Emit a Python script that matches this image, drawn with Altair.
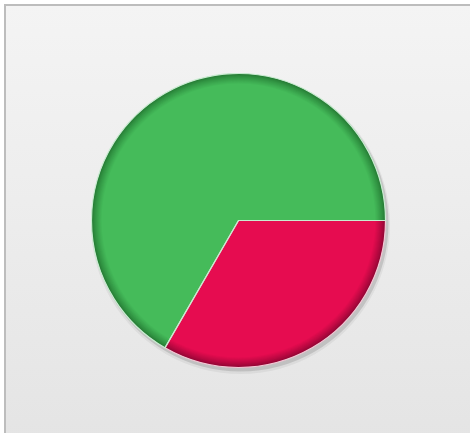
import altair as alt
import pandas as pd
import math

categories = ["Red", "Green"]
values = [1, 2]
base_colors = ["#e60c50", "#45bb5a"]
edge_colors = ["#8f0634", "#257a34"]

df = pd.DataFrame({"cat": categories, "value": values, "order": [0, 1]})

W, H = 470, 433
CX, CY, R = 238.5, 220.5, 147

theta_scale = alt.Scale(range=[math.pi / 2, math.pi / 2 + 2 * math.pi])


def mix(c1, c2, t):
    a = [int(c1[i:i + 2], 16) for i in (1, 3, 5)]
    b = [int(c2[i:i + 2], 16) for i in (1, 3, 5)]
    return "#" + "".join(f"{round(x + (y - x) * t):02x}" for x, y in zip(a, b))


bg = alt.Chart(df).mark_rect(
    fill=alt.LinearGradient(
        gradient="linear",
        stops=[alt.GradientStop(color="#f4f4f4", offset=0),
               alt.GradientStop(color="#e4e4e4", offset=1)],
        x1=0, x2=0, y1=0, y2=1,
    ),
    stroke="#bdbdbd",
    strokeWidth=2,
).encode(x=alt.value(5), x2=alt.value(490), y=alt.value(5), y2=alt.value(450))

base = alt.Chart(df).encode(
    theta=alt.Theta("value:Q", stack=True, scale=theta_scale),
    order=alt.Order("order:Q"),
)

shadow = base.mark_arc(radius=R + 1, color="#000000", opacity=0.12).encode(
    x=alt.value(CX + 2), y=alt.value(CY + 3)
)
shadow2 = base.mark_arc(radius=R + 2.5, color="#000000", opacity=0.05).encode(
    x=alt.value(CX + 2), y=alt.value(CY + 4)
)

layers = [bg, shadow2, shadow]
steps = 10
for i in range(steps + 1):
    t = i / steps
    cols = [mix(e, b, min(1.0, t ** 0.8)) for e, b in zip(edge_colors, base_colors)]
    layers.append(
        base.mark_arc(radius=R - i * 1.0).encode(
            x=alt.value(CX), y=alt.value(CY),
            color=alt.Color("cat:N", scale=alt.Scale(domain=categories, range=cols), legend=None),
        )
    )

outline = base.mark_arc(radius=R, fillOpacity=0, strokeWidth=1.2).encode(
    x=alt.value(CX), y=alt.value(CY),
    stroke=alt.Color("cat:N", scale=alt.Scale(domain=categories, range=["#f4c6d4", "#c8ecd0"]), legend=None),
)
layers.append(outline)

chart = alt.layer(*layers).resolve_scale(color="independent", stroke="independent").properties(
    width=W, height=H, autosize=alt.AutoSizeParams(type="none"), padding=0,
).configure_view(stroke=None)

chart.save("out.html", embed_options={"renderer": "svg", "actions": False})
